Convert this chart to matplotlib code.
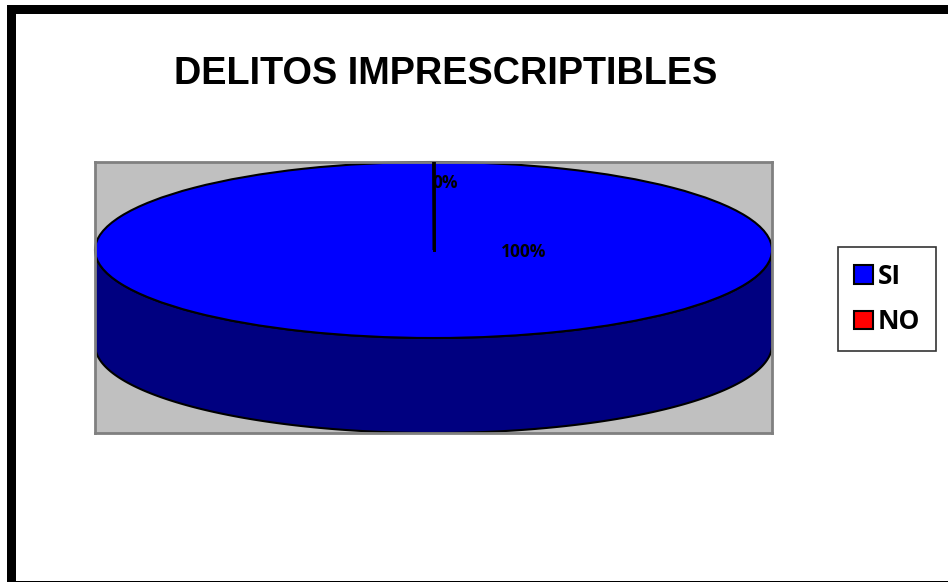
import matplotlib
matplotlib.use('Agg')
import matplotlib.pyplot as plt
import numpy as np
from matplotlib.patches import Rectangle, Polygon, Patch
from matplotlib.lines import Line2D

# ---- data ----
title = 'DELITOS IMPRESCRIPTIBLES'
categories = ['SI', 'NO']
values = [100, 0]
top_colors = ['#0000FF', '#FF0000']
side_colors = ['#000080', '#800000']

W, H = 948, 582
fig = plt.figure(figsize=(W / 100, H / 100), dpi=100)


def fr(x0, y0, x1, y1):
    """top-down pixel box -> figure fraction [l, b, w, h]"""
    return [x0 / W, 1 - y1 / H, (x1 - x0) / W, (y1 - y0) / H]


# ---- outer frame (thick top/left, thin bottom) ----
for (x0, y0, x1, y1) in [(7, 5, W, 14), (7, 5, 16, H), (7, 580.5, W, H)]:
    l, b, w, h = fr(x0, y0, x1, y1)
    fig.patches.append(Rectangle((l, b), w, h, transform=fig.transFigure,
                                 facecolor='black', edgecolor='none'))

# ---- title ----
fig.text(446 / W, 1 - 74 / H, title, ha='center', va='center',
         fontsize=27.3, fontweight='bold', family='Liberation Sans')

# ---- pie (3D look) ----
ax = fig.add_axes(fr(95, 162, 772, 433))
depth = 95 / 88.0
startangle = 90.0
total = float(sum(values))

# side walls (front half only), drawn first
ang = startangle
for v, sc in zip(values, side_colors):
    a2 = ang
    a1 = ang - 360.0 * v / total
    ang = a1
    segs = []
    for k in range(-2, 3):
        s = max(a1, -180 + 360 * k)
        e = min(a2, 0 + 360 * k)
        if e > s:
            segs.append((s, e))
    for s, e in segs:
        t = np.radians(np.linspace(s, e, 200))
        xs = np.cos(t)
        ys = np.sin(t)
        pts = np.concatenate([np.column_stack([xs, ys]),
                              np.column_stack([xs[::-1], ys[::-1] - depth])])
        ax.add_patch(Polygon(pts, closed=True, facecolor=sc,
                             edgecolor='black', linewidth=1.5, zorder=1))

wedges, _ = ax.pie(values, colors=top_colors, startangle=startangle,
                   counterclock=False, radius=1, center=(0, 0), frame=True,
                   wedgeprops=dict(edgecolor='black', linewidth=1.5))
for wdg in wedges:
    wdg.set_zorder(2)

# radial boundary lines on the top face
ang = startangle
for v in values:
    th = np.radians(ang)
    ax.add_line(Line2D([0, np.cos(th)], [0, np.sin(th)], color='black',
                       linewidth=2, zorder=3))
    ang -= 360.0 * v / total

# percentage labels
label_pos = [(0.265, -0.02), (0.034, 0.76)]
for v, (lx, ly) in zip(values, label_pos):
    ax.text(lx, ly, f'{v / total * 100:.0f}%', ha='center', va='center',
            fontsize=12.5, fontweight='bold', family='Open Sans', zorder=4)

ax.set_aspect('auto')
ax.set_xlim(-1, 1)
ax.set_ylim(-1 - depth, 1)
ax.set_facecolor('#C0C0C0')
ax.set_frame_on(True)
for sp in ax.spines.values():
    sp.set_color('#808080')
    sp.set_linewidth(2)
ax.set_xticks([])
ax.set_yticks([])

# ---- legend ----
handles = [Patch(facecolor=c, edgecolor='black', linewidth=1.5) for c in top_colors]
leg = fig.legend(handles, categories, loc='upper left',
                 bbox_to_anchor=(838 / W, 1 - 247 / H),
                 prop=dict(family='Open Sans', weight='bold', size=19),
                 frameon=True, fancybox=False, edgecolor='black',
                 handlelength=0.72, handleheight=0.72, handletextpad=0.2,
                 labelspacing=0.7, borderpad=0.6, borderaxespad=0)
leg.get_frame().set_linewidth(1.2)

fig.savefig('out.png', dpi=100)
